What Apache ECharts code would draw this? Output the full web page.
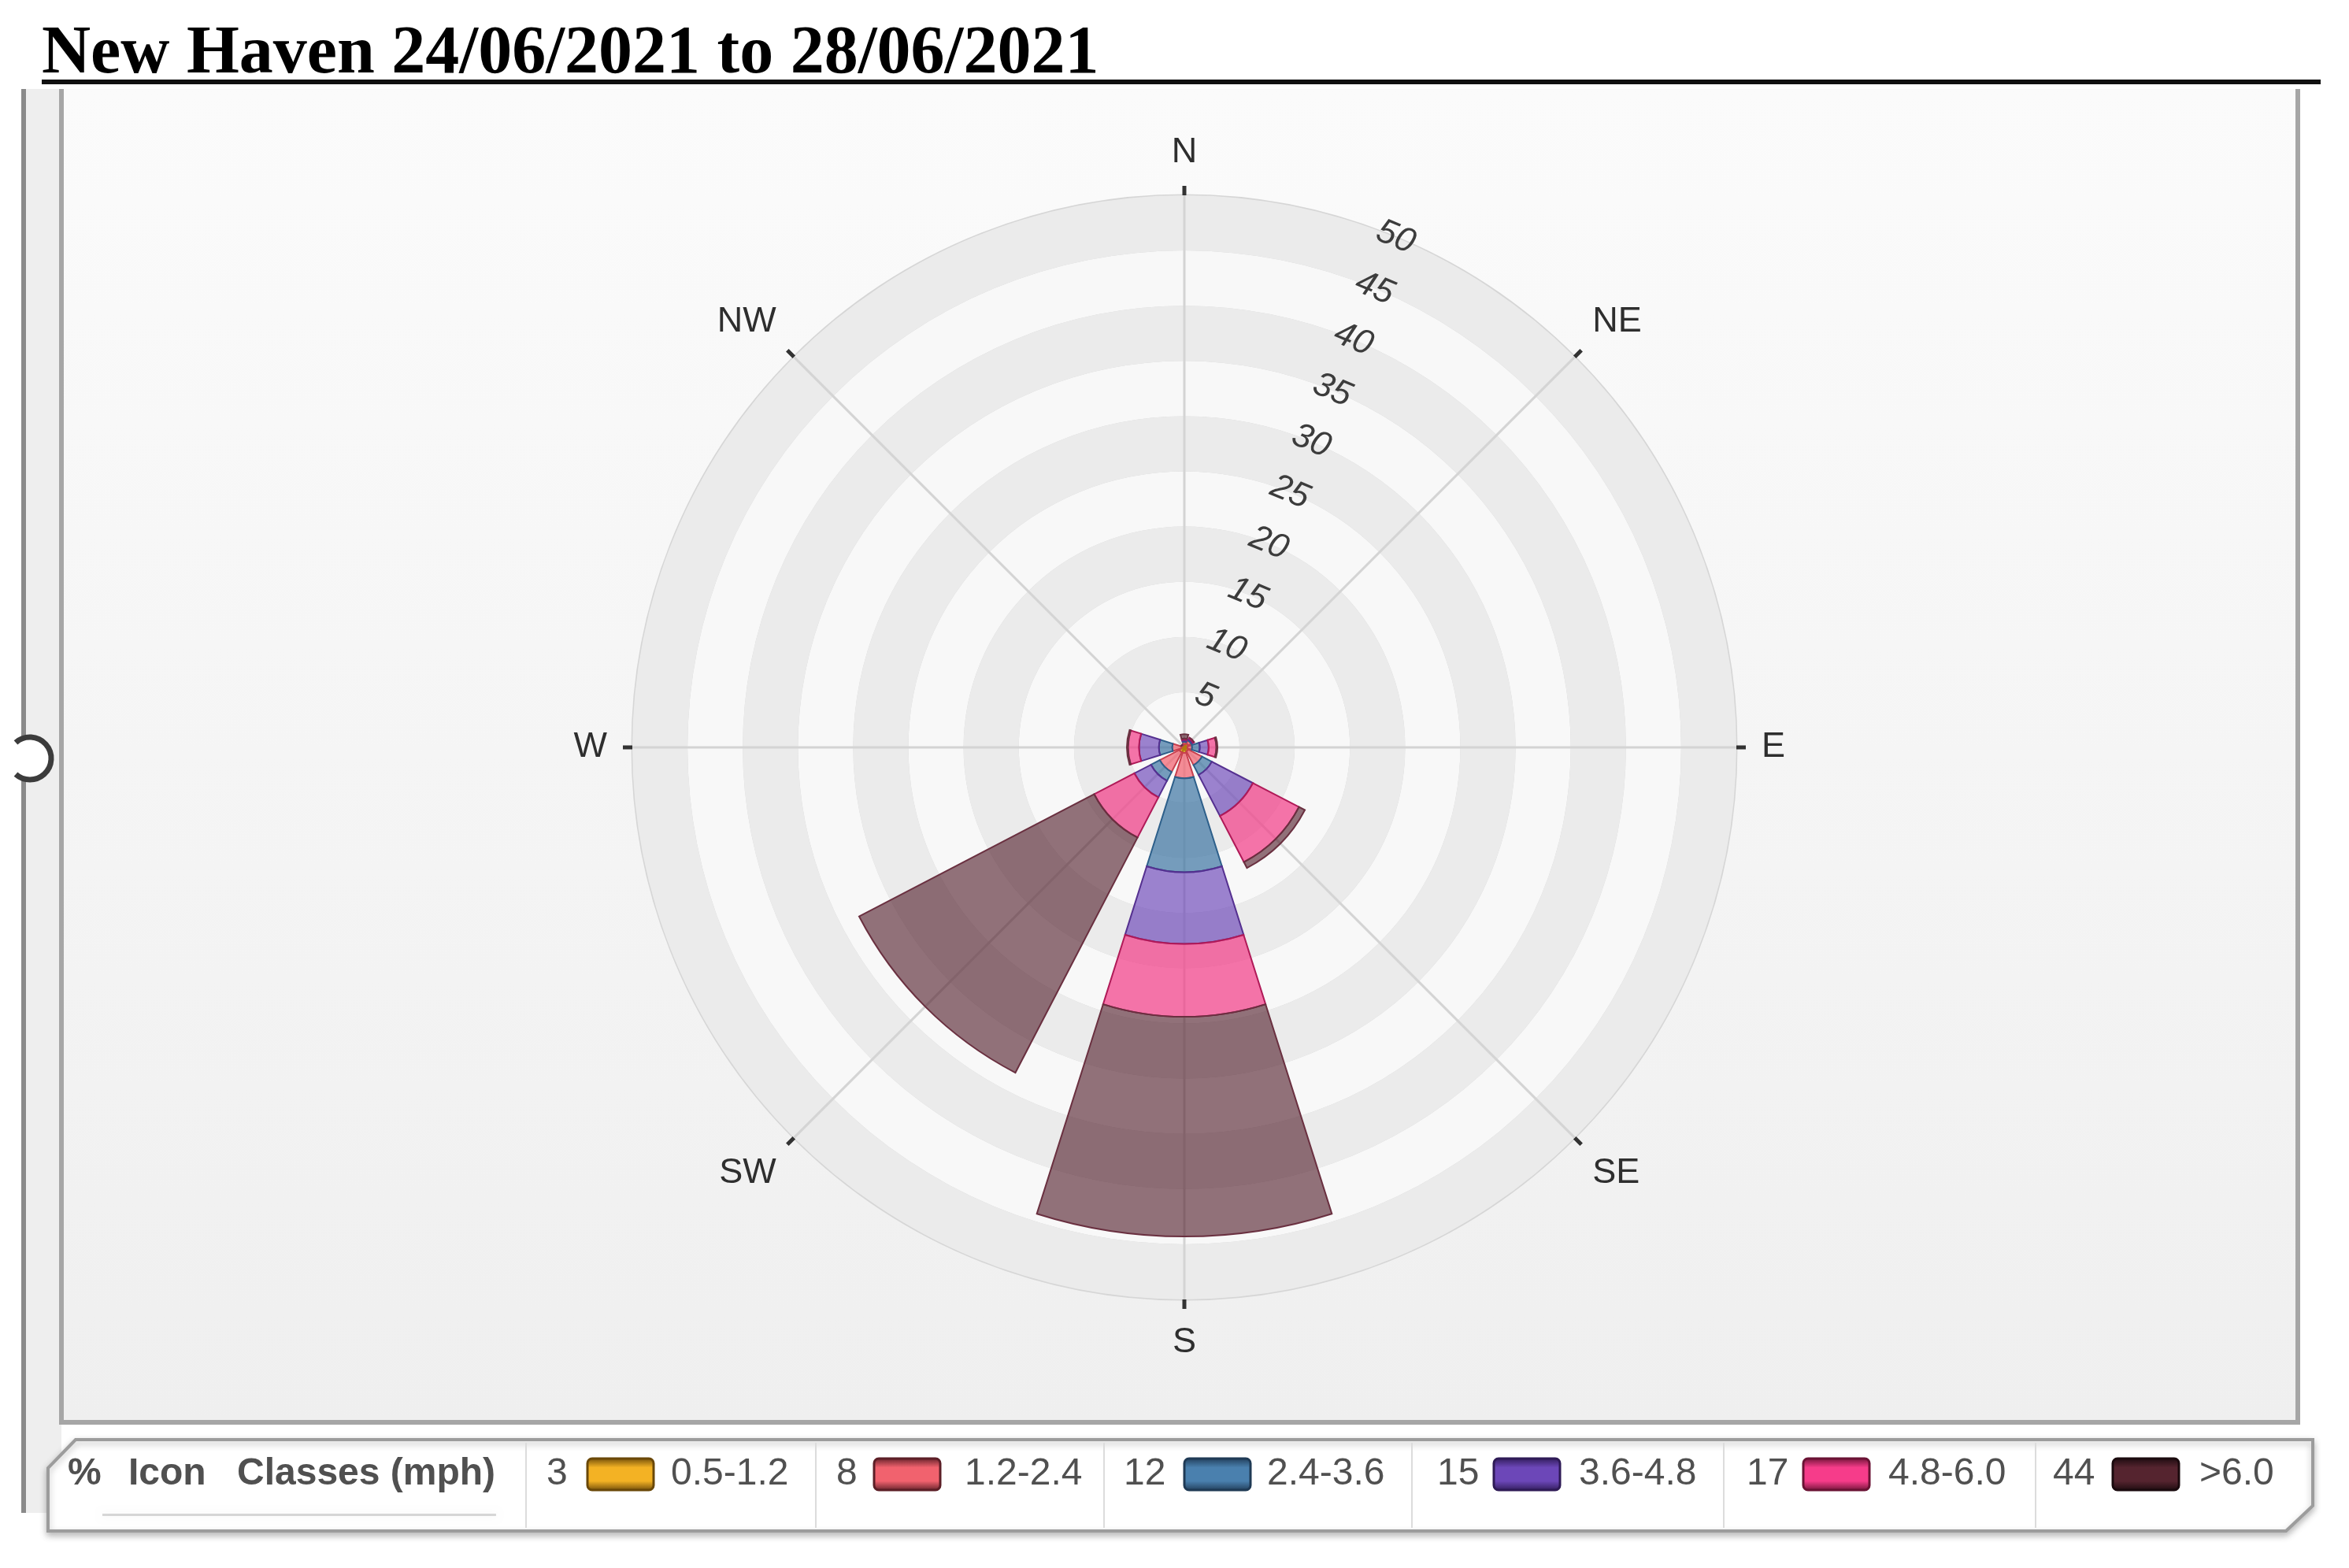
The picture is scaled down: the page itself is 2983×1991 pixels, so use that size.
<!DOCTYPE html>
<html>
<head>
<meta charset="utf-8">
<title>New Haven wind rose</title>
<script src="https://cdn.jsdelivr.net/npm/echarts/dist/echarts.min.js"></script>
<style>
  html, body { margin: 0; padding: 0; background: #fff; }
  #chart { width: 2983px; height: 1991px; }
</style>
</head>
<body>
<div id="chart"></div>
<script>
// wind directions, sector centres clockwise from north
const directions = ['N', 'NE', 'E', 'SE', 'S', 'SW', 'W', 'NW']
// speed classes (mph) and their share of the whole period (%)
const classes = ['0.5-1.2', '1.2-2.4', '2.4-3.6', '3.6-4.8', '4.8-6.0', '>6.0']
const classPercent = [3, 8, 12, 15, 17, 44]
// frequency (%) per direction, one array per speed class
const speed0512 = [0.3, 0.4, 0.3, 0.4, 0.5, 0.5, 0.3, 0.2]
const speed1224 = [0.2, 0.3, 0.4, 1.4, 2.3, 2.0, 0.8, 0.1]
const speed2436 = [0.1, 0.1, 0.7, 1.0, 8.5, 0.9, 1.2, 0.0]
const speed3648 = [0.1, 0.1, 0.8, 4.2, 6.5, 1.7, 1.8, 0.0]
const speed4860 = [0.1, 0.1, 0.7, 4.7, 6.6, 4.1, 1.0, 0.0]
const speedOver6 = [0.4, 0.0, 0.1, 0.6, 19.9, 24.0, 0.1, 0.0]
// radius scale (%)
const radiusMax = 50
const radiusStep = 5

const classData = [speed0512, speed1224, speed2436, speed3648, speed4860, speedOver6]
// petal fill / petal edge / legend swatch colours
const petalColors = ['rgba(245,176,32,0.75)', 'rgba(242,98,112,0.72)', 'rgba(61,117,163,0.7)',
  'rgba(107,68,184,0.66)', 'rgba(242,58,134,0.7)', 'rgba(76,24,36,0.6)']
const edgeColors = ['#b07a10', '#c8404e', '#2d5f8a', '#553090', '#b01a58', '#6a3040']
const swatchColors = ['#f3b224', '#f1626e', '#4a80ae', '#6c47b8', '#f63c8a', '#55242f']
const swatchEdges = ['#6a4808', '#5c1e26', '#1f3a55', '#2e1a56', '#6a1234', '#1a0a0e']

const center = [1504, 949]
const radius = 701

const chart = echarts.init(document.getElementById('chart'))

const series = classes.map(function (name, i) {
  return {
    name: name,
    type: 'bar',
    coordinateSystem: 'polar',
    polarIndex: 0,
    stack: 'rose',
    barCategoryGap: '22%',
    data: classData[i],
    itemStyle: {
      color: petalColors[i],
      borderColor: edgeColors[i],
      borderWidth: 2
    },
    emphasis: { disabled: true }
  }
})

// legend table drawn as graphic elements
const legendFont = '48px "Liberation Sans", Arial, sans-serif'
const cellStart = [668, 1036, 1402, 1793, 2189, 2585]
const numberX = [694, 1062, 1427, 1825, 2218, 2607]
const swatchX = [746, 1110, 1504, 1897, 2290, 2683]
const labelX = [852, 1225, 1609, 2005, 2398, 2793]
const legendY = 1872

const graphics = [
  // left strip of the page frame
  { type: 'rect', z: -30, shape: { x: 30, y: 113, width: 48, height: 1808 }, style: { fill: '#eeeeee' } },
  { type: 'line', z: -20, shape: { x1: 30, y1: 113, x2: 30, y2: 1921 }, style: { stroke: '#8a8a8a', lineWidth: 6 } },
  // chart panel
  {
    type: 'rect', z: -30,
    shape: { x: 78, y: 113, width: 2840, height: 1693 },
    style: {
      fill: new echarts.graphic.LinearGradient(0, 0, 0, 1, [
        { offset: 0, color: '#fbfbfb' }, { offset: 1, color: '#efefef' }
      ])
    }
  },
  {
    type: 'polyline', z: -20,
    shape: { points: [[78, 113], [78, 1806], [2918, 1806], [2918, 113]] },
    style: { stroke: '#a6a6a6', lineWidth: 6, fill: null }
  },
  // circle handle on the left edge
  { type: 'circle', z: -10, shape: { cx: 38, cy: 963, r: 30 }, style: { fill: '#ffffff' } },
  {
    type: 'arc', z: -10,
    shape: { cx: 38, cy: 963, r: 27, startAngle: -2.3, endAngle: 2.3, clockwise: true },
    style: { stroke: '#3c3c3c', lineWidth: 7, fill: null }
  },
  // title underline
  { type: 'rect', z: 5, shape: { x: 53, y: 101, width: 2894, height: 6 }, style: { fill: '#111111' } },
  // legend box
  {
    type: 'polygon', z: 5,
    shape: { points: [[96, 1828], [2937, 1828], [2937, 1912], [2903, 1944], [61, 1944], [61, 1864]] },
    style: {
      fill: '#ffffff', stroke: '#9c9c9c', lineWidth: 4,
      shadowBlur: 8, shadowOffsetY: 4, shadowColor: 'rgba(0,0,0,0.25)'
    }
  },
  {
    type: 'rect', z: 6,
    shape: { x: 130, y: 1922, width: 500, height: 3 },
    style: { fill: 'rgba(0,0,0,0.15)', shadowBlur: 10, shadowColor: 'rgba(0,0,0,0.35)' }
  },
  {
    type: 'text', z: 6,
    style: { text: '%', x: 86, y: legendY, verticalAlign: 'middle', font: 'bold ' + legendFont, fill: '#505050' }
  },
  {
    type: 'text', z: 6,
    style: { text: 'Icon', x: 163, y: legendY, verticalAlign: 'middle', font: 'bold ' + legendFont, fill: '#505050' }
  },
  {
    type: 'text', z: 6,
    style: { text: 'Classes (mph)', x: 301, y: legendY, verticalAlign: 'middle', font: 'bold ' + legendFont, fill: '#505050' }
  }
]

classes.forEach(function (name, i) {
  graphics.push({
    type: 'line', z: 6,
    shape: { x1: cellStart[i], y1: 1832, x2: cellStart[i], y2: 1940 },
    style: { stroke: '#dcdcdc', lineWidth: 2 }
  })
  graphics.push({
    type: 'text', z: 6,
    style: { text: String(classPercent[i]), x: numberX[i], y: legendY, verticalAlign: 'middle', font: legendFont, fill: '#505050' }
  })
  graphics.push({
    type: 'rect', z: 6,
    shape: { x: swatchX[i], y: 1852, width: 84, height: 40, r: 6 },
    style: {
      fill: new echarts.graphic.LinearGradient(0, 0, 0, 1, [
        { offset: 0, color: swatchEdges[i] }, { offset: 0.3, color: swatchColors[i] },
        { offset: 0.7, color: swatchColors[i] }, { offset: 1, color: swatchEdges[i] }
      ]),
      stroke: swatchEdges[i], lineWidth: 3
    }
  })
  graphics.push({
    type: 'text', z: 6,
    style: { text: name, x: labelX[i], y: legendY, verticalAlign: 'middle', font: legendFont, fill: '#505050' }
  })
})

chart.setOption({
  animation: false,
  backgroundColor: '#ffffff',
  title: {
    text: 'New Haven 24/06/2021 to 28/06/2021',
    left: 53,
    top: 27,
    padding: 0,
    textStyle: {
      fontFamily: '"Liberation Serif", "Times New Roman", serif',
      fontWeight: 'bold',
      fontSize: 86,
      color: '#000'
    }
  },
  polar: [
    { center: center, radius: radius },
    { center: center, radius: radius },
    { center: center, radius: radius }
  ],
  angleAxis: [
    {
      // sectors for the petals, one per direction
      polarIndex: 0,
      type: 'category',
      data: directions,
      startAngle: 90 + 180 / directions.length,
      clockwise: true,
      boundaryGap: true,
      axisLine: { show: false },
      axisTick: { show: false },
      splitLine: { show: false },
      axisLabel: {
        interval: 0,
        hideOverlap: false,
        margin: 32,
        fontSize: 45,
        fontFamily: '"Liberation Sans", Arial, sans-serif',
        color: '#2e2e2e'
      }
    },
    {
      // spokes through the direction centres
      polarIndex: 1,
      type: 'value',
      min: 0,
      max: 360,
      interval: 360 / directions.length,
      startAngle: 90,
      clockwise: true,
      axisLine: { show: false },
      axisLabel: { show: false },
      axisTick: { show: true, length: 12, lineStyle: { color: '#333', width: 5 } },
      splitLine: { show: true, lineStyle: { color: '#d4d4d4', width: 3 } }
    },
    {
      // carries the radius labels along NNE
      polarIndex: 2,
      type: 'value',
      min: 0,
      max: 360,
      startAngle: 90 - 180 / directions.length,
      show: false
    }
  ],
  radiusAxis: [
    {
      polarIndex: 0,
      min: 0,
      max: radiusMax,
      interval: radiusStep,
      axisLine: { show: false },
      axisTick: { show: false },
      axisLabel: { show: false },
      splitLine: { show: true, lineStyle: { color: '#d6d6d6', width: 3 } },
      splitArea: { show: true, areaStyle: { color: ['#f8f8f8', '#ebebeb'] } }
    },
    {
      polarIndex: 1,
      min: 0,
      max: radiusMax,
      show: false
    },
    {
      polarIndex: 2,
      min: 0,
      max: radiusMax,
      interval: radiusStep,
      axisLine: { show: false },
      axisTick: { show: false },
      splitLine: { show: false },
      axisLabel: {
        rotate: -22.5,
        margin: 0,
        align: 'center',
        verticalAlign: 'middle',
        fontSize: 44,
        fontStyle: 'italic',
        fontFamily: '"Liberation Sans", Arial, sans-serif',
        color: '#3c3c3c',
        formatter: function (v) { return v === 0 ? '' : String(v) }
      },
      z: 5
    }
  ],
  tooltip: { show: false },
  series: series,
  graphic: { elements: graphics }
})
</script>
</body>
</html>
